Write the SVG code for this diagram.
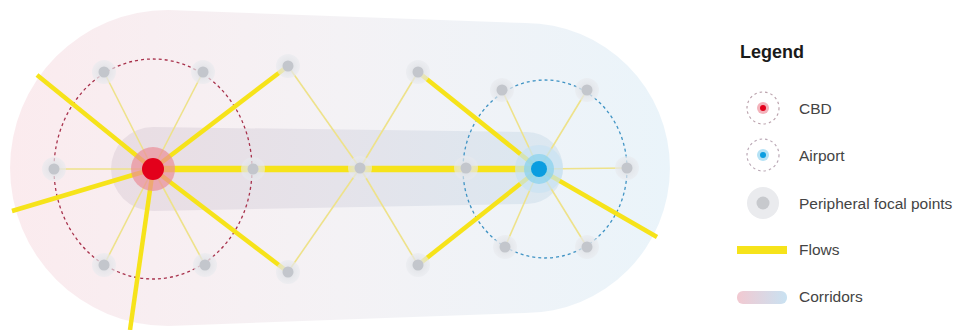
<svg xmlns="http://www.w3.org/2000/svg" width="959" height="330" viewBox="0 0 959 330">
<defs>
<linearGradient id="gBig" x1="0" y1="0" x2="1" y2="0">
<stop offset="0" stop-color="#fbebee"/>
<stop offset="0.5" stop-color="#f4f2f5"/>
<stop offset="1" stop-color="#eaf4fa"/>
</linearGradient>
<linearGradient id="gBand" x1="0" y1="0" x2="1" y2="0">
<stop offset="0" stop-color="#eadde3"/>
<stop offset="0.5" stop-color="#e5e3ea"/>
<stop offset="1" stop-color="#dbe8f1"/>
</linearGradient>
<linearGradient id="gLeg" x1="0" y1="0" x2="1" y2="0">
<stop offset="0" stop-color="#f2c9d1"/>
<stop offset="1" stop-color="#c9e2f2"/>
</linearGradient>
<radialGradient id="gHalo">
<stop offset="0" stop-color="#dcdee2"/>
<stop offset="1" stop-color="#e8eaee" stop-opacity="0.6"/>
</radialGradient>
</defs>
<style>
.thick{stroke:#f6e31a;stroke-width:4.5;fill:none;stroke-linecap:butt}
.main{stroke:#f6e31a;stroke-width:6.5;fill:none}
.thin{stroke:#eee28a;stroke-width:1.6;fill:none}
.halo{fill:url(#gHalo)}
.dot{fill:#c3c6cc}
.lbl{font-family:"Liberation Sans",Arial,sans-serif;font-size:15.5px;fill:#444444}
.title{font-family:"Liberation Sans",Arial,sans-serif;font-size:18px;font-weight:bold;fill:#1a1a1a}
</style>

<g id="corridor">
<path d="M168,10 L525,23 A145,145 0 0 1 525,313 L168,326 A158,158 0 0 1 168,10 Z" fill="url(#gBig)"/>
<path d="M153,127 L527,132 A36,36 0 0 1 527,204 L153,211 A42,42 0 0 1 153,127 Z" fill="url(#gBand)"/>
<ellipse cx="153" cy="169" rx="99" ry="110" fill="none" stroke="#a8324c" stroke-width="1.3" stroke-dasharray="3,3"/>
<ellipse cx="545" cy="169" rx="82" ry="89" fill="none" stroke="#3f93c4" stroke-width="1.3" stroke-dasharray="3,3"/>
</g>

<g id="connectors">
<line class="thin" x1="153" y1="169" x2="104" y2="72"/>
<line class="thin" x1="153" y1="169" x2="203" y2="72"/>
<line class="thin" x1="153" y1="169" x2="54" y2="169"/>
<line class="thin" x1="153" y1="169" x2="104" y2="265"/>
<line class="thin" x1="153" y1="169" x2="205" y2="265"/>
<line class="thin" x1="288" y1="66" x2="360" y2="168"/>
<line class="thin" x1="288" y1="272" x2="360" y2="168"/>
<line class="thin" x1="360" y1="168" x2="418" y2="72"/>
<line class="thin" x1="360" y1="168" x2="418" y2="265"/>
<line class="thin" x1="539" y1="169" x2="502" y2="90"/>
<line class="thin" x1="539" y1="169" x2="587" y2="90"/>
<line class="thin" x1="539" y1="169" x2="627" y2="168"/>
<line class="thin" x1="539" y1="169" x2="505" y2="247"/>
<line class="thin" x1="539" y1="169" x2="587" y2="247"/>
<line class="main" x1="153" y1="169" x2="539" y2="169"/>
<line class="thick" x1="153" y1="169" x2="288" y2="66"/>
<line class="thick" x1="153" y1="169" x2="288" y2="272"/>
<line class="thick" x1="153" y1="169" x2="37" y2="75"/>
<line class="thick" x1="153" y1="169" x2="12" y2="211"/>
<line class="thick" x1="153" y1="169" x2="130" y2="330"/>
<line class="thick" x1="418" y1="72" x2="539" y2="169"/>
<line class="thick" x1="418" y1="265" x2="539" y2="169"/>
<line class="thick" x1="539" y1="169" x2="657" y2="237"/>
</g>

<g id="p1"><circle class="halo" cx="104" cy="72" r="12"/><circle class="dot" cx="104" cy="72" r="5.5"/></g>
<g id="p2"><circle class="halo" cx="203" cy="72" r="12"/><circle class="dot" cx="203" cy="72" r="5.5"/></g>
<g id="p3"><circle class="halo" cx="54" cy="169" r="12"/><circle class="dot" cx="54" cy="169" r="5.5"/></g>
<g id="p4"><circle class="halo" cx="253" cy="169" r="12"/><circle class="dot" cx="253" cy="169" r="5.5"/></g>
<g id="p5"><circle class="halo" cx="104" cy="265" r="12"/><circle class="dot" cx="104" cy="265" r="5.5"/></g>
<g id="p6"><circle class="halo" cx="205" cy="265" r="12"/><circle class="dot" cx="205" cy="265" r="5.5"/></g>
<g id="p7"><circle class="halo" cx="288" cy="66" r="12"/><circle class="dot" cx="288" cy="66" r="5.5"/></g>
<g id="p8"><circle class="halo" cx="288" cy="272" r="12"/><circle class="dot" cx="288" cy="272" r="5.5"/></g>
<g id="p9"><circle class="halo" cx="360" cy="168" r="12"/><circle class="dot" cx="360" cy="168" r="5.5"/></g>
<g id="p10"><circle class="halo" cx="418" cy="72" r="12"/><circle class="dot" cx="418" cy="72" r="5.5"/></g>
<g id="p11"><circle class="halo" cx="418" cy="265" r="12"/><circle class="dot" cx="418" cy="265" r="5.5"/></g>
<g id="p12"><circle class="halo" cx="466" cy="168" r="12"/><circle class="dot" cx="466" cy="168" r="5.5"/></g>
<g id="p13"><circle class="halo" cx="502" cy="90" r="12"/><circle class="dot" cx="502" cy="90" r="5.5"/></g>
<g id="p14"><circle class="halo" cx="587" cy="90" r="12"/><circle class="dot" cx="587" cy="90" r="5.5"/></g>
<g id="p15"><circle class="halo" cx="627" cy="168" r="12"/><circle class="dot" cx="627" cy="168" r="5.5"/></g>
<g id="p16"><circle class="halo" cx="505" cy="247" r="12"/><circle class="dot" cx="505" cy="247" r="5.5"/></g>
<g id="p17"><circle class="halo" cx="587" cy="247" r="12"/><circle class="dot" cx="587" cy="247" r="5.5"/></g>

<g id="cbd">
<circle cx="153" cy="169" r="22" fill="#e98f98" fill-opacity="0.7"/>
<circle cx="153" cy="169" r="11" fill="#e3001b"/>
</g>
<g id="airport">
<circle cx="539" cy="169" r="24" fill="#c9e3f2" fill-opacity="0.7"/>
<circle cx="539" cy="169" r="15" fill="#8fd3ee" fill-opacity="0.8"/>
<circle cx="539" cy="169" r="8" fill="#0a9de0"/>
</g>

<g id="legend">
<text class="title" x="740" y="58">Legend</text>
<g id="leg-cbd">
<circle cx="763" cy="108" r="16" fill="none" stroke="#bba3ad" stroke-width="1.2" stroke-dasharray="2.5,3"/>
<circle cx="763" cy="108" r="6" fill="#f3b3bb"/>
<circle cx="763" cy="108" r="3" fill="#e3001b"/>
<text class="lbl" x="799" y="114">CBD</text>
</g>
<g id="leg-airport">
<circle cx="763" cy="155" r="16" fill="none" stroke="#bba9b6" stroke-width="1.2" stroke-dasharray="2.5,3"/>
<circle cx="763" cy="155" r="6" fill="#b5e2f5"/>
<circle cx="763" cy="155" r="3" fill="#0a9de0"/>
<text class="lbl" x="799" y="161">Airport</text>
</g>
<g id="leg-peripheral">
<circle cx="763" cy="203" r="16" fill="#eaebee"/>
<circle cx="763" cy="203" r="6.5" fill="#c7c9cd"/>
<text class="lbl" x="799" y="209">Peripheral focal points</text>
</g>
<g id="leg-flows">
<rect x="737" y="246" width="50" height="8" fill="#f6e31a"/>
<text class="lbl" x="799" y="255">Flows</text>
</g>
<g id="leg-corridors">
<rect x="737" y="291" width="50" height="13" rx="6" fill="url(#gLeg)"/>
<text class="lbl" x="799" y="302">Corridors</text>
</g>
</g>
</svg>
